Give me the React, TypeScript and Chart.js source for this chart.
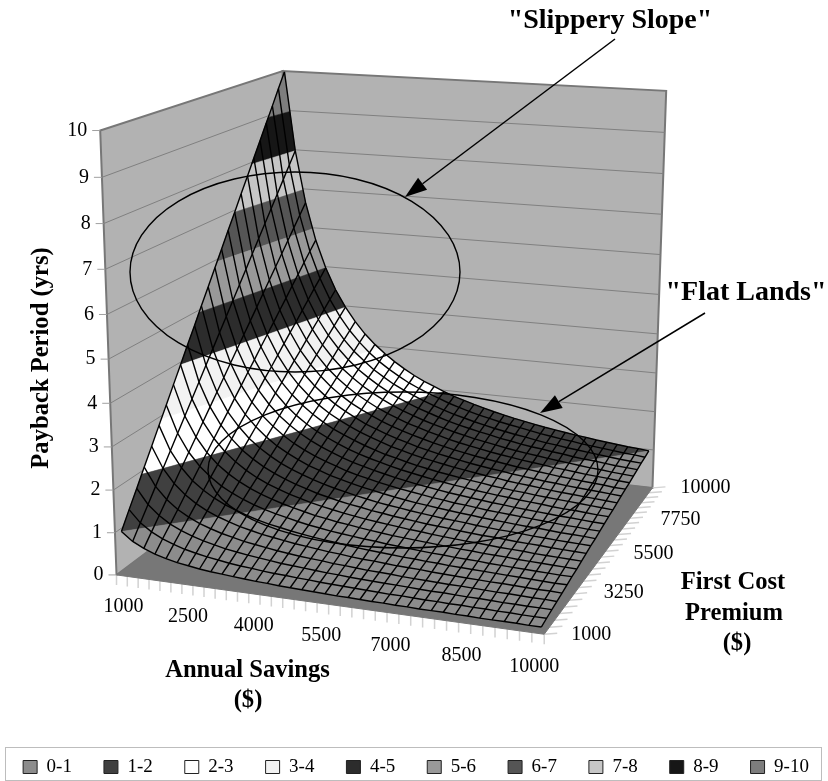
import React, { useEffect, useRef } from "react";
import { Chart, registerables } from "chart.js";

Chart.register(...registerables);

const FONT = '"Liberation Serif", "Times New Roman", serif';

// Axis categories and labels
const annualSavings = [1000, 1250, 1500, 1750, 2000, 2250, 2500, 2750, 3000, 3250, 3500, 3750, 4000, 4250, 4500, 4750, 5000, 5250, 5500, 5750, 6000, 6250, 6500, 6750, 7000, 7250, 7500, 7750, 8000, 8250, 8500, 8750, 9000, 9250, 9500, 9750, 10000];
const firstCostPremium = [1000, 1375, 1750, 2125, 2500, 2875, 3250, 3625, 4000, 4375, 4750, 5125, 5500, 5875, 6250, 6625, 7000, 7375, 7750, 8125, 8500, 8875, 9250, 9625, 10000];
const savingsTickLabels = ["1000", "2500", "4000", "5500", "7000", "8500", "10000"];
const premiumTickLabels = ["1000", "3250", "5500", "7750", "10000"];
const paybackTicks = [0, 1, 2, 3, 4, 5, 6, 7, 8, 9, 10];
const bandLabels = ["0-1", "1-2", "2-3", "3-4", "4-5", "5-6", "6-7", "7-8", "8-9", "9-10"];
const bandColors = ["#8c8c8c", "#404040", "#ffffff", "#f2f2f2", "#2c2c2c", "#999999", "#555555", "#c6c6c6", "#161616", "#7d7d7d"];

// Payback period in years: one row per first cost premium, one column per annual savings
const paybackYears = [
  [1,.8,.67,.57,.5,.44,.4,.36,.33,.31,.29,.27,.25,.24,.22,.21,.2,.19,.18,.17,.17,.16,.15,.15,.14,.14,.13,.13,.13,.12,.12,.11,.11,.11,.11,.1,.1],
  [1.38,1.1,.92,.79,.69,.61,.55,.5,.46,.42,.39,.37,.34,.32,.31,.29,.28,.26,.25,.24,.23,.22,.21,.2,.2,.19,.18,.18,.17,.17,.16,.16,.15,.15,.14,.14,.14],
  [1.75,1.4,1.17,1,.88,.78,.7,.64,.58,.54,.5,.47,.44,.41,.39,.37,.35,.33,.32,.3,.29,.28,.27,.26,.25,.24,.23,.23,.22,.21,.21,.2,.19,.19,.18,.18,.18],
  [2.13,1.7,1.42,1.21,1.06,.94,.85,.77,.71,.65,.61,.57,.53,.5,.47,.45,.43,.4,.39,.37,.35,.34,.33,.31,.3,.29,.28,.27,.27,.26,.25,.24,.24,.23,.22,.22,.21],
  [2.5,2,1.67,1.43,1.25,1.11,1,.91,.83,.77,.71,.67,.63,.59,.56,.53,.5,.48,.45,.43,.42,.4,.38,.37,.36,.34,.33,.32,.31,.3,.29,.29,.28,.27,.26,.26,.25],
  [2.88,2.3,1.92,1.64,1.44,1.28,1.15,1.05,.96,.88,.82,.77,.72,.68,.64,.61,.58,.55,.52,.5,.48,.46,.44,.43,.41,.4,.38,.37,.36,.35,.34,.33,.32,.31,.3,.29,.29],
  [3.25,2.6,2.17,1.86,1.63,1.44,1.3,1.18,1.08,1,.93,.87,.81,.76,.72,.68,.65,.62,.59,.57,.54,.52,.5,.48,.46,.45,.43,.42,.41,.39,.38,.37,.36,.35,.34,.33,.33],
  [3.63,2.9,2.42,2.07,1.81,1.61,1.45,1.32,1.21,1.12,1.04,.97,.91,.85,.81,.76,.73,.69,.66,.63,.6,.58,.56,.54,.52,.5,.48,.47,.45,.44,.43,.41,.4,.39,.38,.37,.36],
  [4,3.2,2.67,2.29,2,1.78,1.6,1.45,1.33,1.23,1.14,1.07,1,.94,.89,.84,.8,.76,.73,.7,.67,.64,.62,.59,.57,.55,.53,.52,.5,.48,.47,.46,.44,.43,.42,.41,.4],
  [4.38,3.5,2.92,2.5,2.19,1.94,1.75,1.59,1.46,1.35,1.25,1.17,1.09,1.03,.97,.92,.88,.83,.8,.76,.73,.7,.67,.65,.63,.6,.58,.56,.55,.53,.51,.5,.49,.47,.46,.45,.44],
  [4.75,3.8,3.17,2.71,2.38,2.11,1.9,1.73,1.58,1.46,1.36,1.27,1.19,1.12,1.06,1,.95,.9,.86,.83,.79,.76,.73,.7,.68,.66,.63,.61,.59,.58,.56,.54,.53,.51,.5,.49,.48],
  [5.13,4.1,3.42,2.93,2.56,2.28,2.05,1.86,1.71,1.58,1.46,1.37,1.28,1.21,1.14,1.08,1.03,.98,.93,.89,.85,.82,.79,.76,.73,.71,.68,.66,.64,.62,.6,.59,.57,.55,.54,.53,.51],
  [5.5,4.4,3.67,3.14,2.75,2.44,2.2,2,1.83,1.69,1.57,1.47,1.38,1.29,1.22,1.16,1.1,1.05,1,.96,.92,.88,.85,.81,.79,.76,.73,.71,.69,.67,.65,.63,.61,.59,.58,.56,.55],
  [5.88,4.7,3.92,3.36,2.94,2.61,2.35,2.14,1.96,1.81,1.68,1.57,1.47,1.38,1.31,1.24,1.18,1.12,1.07,1.02,.98,.94,.9,.87,.84,.81,.78,.76,.73,.71,.69,.67,.65,.64,.62,.6,.59],
  [6.25,5,4.17,3.57,3.13,2.78,2.5,2.27,2.08,1.92,1.79,1.67,1.56,1.47,1.39,1.32,1.25,1.19,1.14,1.09,1.04,1,.96,.93,.89,.86,.83,.81,.78,.76,.74,.71,.69,.68,.66,.64,.63],
  [6.63,5.3,4.42,3.79,3.31,2.94,2.65,2.41,2.21,2.04,1.89,1.77,1.66,1.56,1.47,1.39,1.33,1.26,1.2,1.15,1.1,1.06,1.02,.98,.95,.91,.88,.85,.83,.8,.78,.76,.74,.72,.7,.68,.66],
  [7,5.6,4.67,4,3.5,3.11,2.8,2.55,2.33,2.15,2,1.87,1.75,1.65,1.56,1.47,1.4,1.33,1.27,1.22,1.17,1.12,1.08,1.04,1,.97,.93,.9,.88,.85,.82,.8,.78,.76,.74,.72,.7],
  [7.38,5.9,4.92,4.21,3.69,3.28,2.95,2.68,2.46,2.27,2.11,1.97,1.84,1.74,1.64,1.55,1.48,1.4,1.34,1.28,1.23,1.18,1.13,1.09,1.05,1.02,.98,.95,.92,.89,.87,.84,.82,.8,.78,.76,.74],
  [7.75,6.2,5.17,4.43,3.88,3.44,3.1,2.82,2.58,2.38,2.21,2.07,1.94,1.82,1.72,1.63,1.55,1.48,1.41,1.35,1.29,1.24,1.19,1.15,1.11,1.07,1.03,1,.97,.94,.91,.89,.86,.84,.82,.79,.78],
  [8.13,6.5,5.42,4.64,4.06,3.61,3.25,2.95,2.71,2.5,2.32,2.17,2.03,1.91,1.81,1.71,1.63,1.55,1.48,1.41,1.35,1.3,1.25,1.2,1.16,1.12,1.08,1.05,1.02,.98,.96,.93,.9,.88,.86,.83,.81],
  [8.5,6.8,5.67,4.86,4.25,3.78,3.4,3.09,2.83,2.62,2.43,2.27,2.13,2,1.89,1.79,1.7,1.62,1.55,1.48,1.42,1.36,1.31,1.26,1.21,1.17,1.13,1.1,1.06,1.03,1,.97,.94,.92,.89,.87,.85],
  [8.88,7.1,5.92,5.07,4.44,3.94,3.55,3.23,2.96,2.73,2.54,2.37,2.22,2.09,1.97,1.87,1.78,1.69,1.61,1.54,1.48,1.42,1.37,1.31,1.27,1.22,1.18,1.15,1.11,1.08,1.04,1.01,.99,.96,.93,.91,.89],
  [9.25,7.4,6.17,5.29,4.63,4.11,3.7,3.36,3.08,2.85,2.64,2.47,2.31,2.18,2.06,1.95,1.85,1.76,1.68,1.61,1.54,1.48,1.42,1.37,1.32,1.28,1.23,1.19,1.16,1.12,1.09,1.06,1.03,1,.97,.95,.93],
  [9.63,7.7,6.42,5.5,4.81,4.28,3.85,3.5,3.21,2.96,2.75,2.57,2.41,2.26,2.14,2.03,1.93,1.83,1.75,1.67,1.6,1.54,1.48,1.43,1.38,1.33,1.28,1.24,1.2,1.17,1.13,1.1,1.07,1.04,1.01,.99,.96],
  [10,8,6.67,5.71,5,4.44,4,3.64,3.33,3.08,2.86,2.67,2.5,2.35,2.22,2.11,2,1.9,1.82,1.74,1.67,1.6,1.54,1.48,1.43,1.38,1.33,1.29,1.25,1.21,1.18,1.14,1.11,1.08,1.05,1.03,1],
];

// Camera calibration: box corners (savings, premium, payback fractions) and where they land on the view plane
const cameraPairs = [
  [0, 0, 0, 116, 573],
  [1, 0, 0, 545, 633],
  [1, 1, 0, 652, 487],
  [0, 1, 0, 288, 446],
  [0, 0, 1, 100, 131],
  [0, 1, 1, 283, 70.5],
  [1, 1, 1, 666, 90.5],
];
// The surface sits slightly inside the floor on every side
const SURFACE_INSET_U = 0.01;
const SURFACE_INSET_V = 0.012;

function solveLinear(A: number[][], b: number[]) {
  const n = b.length;
  const m = A.map((r, i) => [...r, b[i]]);
  for (let c = 0; c < n; c++) {
    let p = c;
    for (let r = c + 1; r < n; r++) if (Math.abs(m[r][c]) > Math.abs(m[p][c])) p = r;
    [m[c], m[p]] = [m[p], m[c]];
    for (let r = 0; r < n; r++) {
      if (r === c) continue;
      const f = m[r][c] / m[c][c];
      for (let k = c; k <= n; k++) m[r][k] -= f * m[c][k];
    }
  }
  return m.map((r, i) => r[n] / r[i]);
}

// Least-squares fit of a projective camera to the calibration pairs
function fitCamera() {
  const rows: number[][] = [];
  const rhs: number[] = [];
  for (const [u, v, w, x, y] of cameraPairs) {
    rows.push([1, u, v, w, 0, 0, 0, 0, -x * u, -x * v, -x * w]);
    rhs.push(x);
    rows.push([0, 0, 0, 0, 1, u, v, w, -y * u, -y * v, -y * w]);
    rhs.push(y);
  }
  const n = 11;
  const N = Array.from({ length: n }, () => new Array(n).fill(0));
  const t = new Array(n).fill(0);
  rows.forEach((r, k) => {
    for (let a = 0; a < n; a++) {
      t[a] += r[a] * rhs[k];
      for (let b = 0; b < n; b++) N[a][b] += r[a] * r[b];
    }
  });
  return solveLinear(N, t);
}

const cam = fitCamera();
const project = (u: number, v: number, w: number) => {
  const d = 1 + cam[8] * u + cam[9] * v + cam[10] * w;
  return {
    x: (cam[0] + cam[1] * u + cam[2] * v + cam[3] * w) / d,
    y: (cam[4] + cam[5] * u + cam[6] * v + cam[7] * w) / d,
  };
};

const lastI = annualSavings.length - 1;
const lastJ = firstCostPremium.length - 1;

// Grid position plus payback value to view-plane point
const surfacePoint = (i: number, j: number, z: number) =>
  project(
    SURFACE_INSET_U + (i / lastI) * (1 - 2 * SURFACE_INSET_U),
    SURFACE_INSET_V + (j / lastJ) * (1 - 2 * SURFACE_INSET_V),
    z / 10,
  );

// Outline of the surface clipped to one payback band
function bandOutline(lo: number, hi: number) {
  const ring: number[][] = [];
  for (let i = 0; i <= lastI; i++) ring.push([i, 0, paybackYears[0][i]]);
  for (let j = 1; j <= lastJ; j++) ring.push([lastI, j, paybackYears[j][lastI]]);
  for (let i = lastI - 1; i >= 0; i--) ring.push([i, lastJ, paybackYears[lastJ][i]]);
  for (let j = lastJ - 1; j > 0; j--) ring.push([0, j, paybackYears[j][0]]);
  const clip = (poly: number[][], level: number, keepAbove: boolean) => {
    const inside = (p: number[]) => (keepAbove ? p[2] >= level : p[2] <= level);
    const out: number[][] = [];
    poly.forEach((p, k) => {
      const q = poly[(k + 1) % poly.length];
      if (inside(p)) out.push(p);
      if (inside(p) !== inside(q)) {
        const t = (level - p[2]) / (q[2] - p[2]);
        out.push([p[0] + t * (q[0] - p[0]), p[1] + t * (q[1] - p[1]), level]);
      }
    });
    return out;
  };
  const pts = clip(clip(ring, lo, true), hi, false).map(([i, j, z]) => surfacePoint(i, j, z));
  if (pts.length) pts.push(pts[0]);
  return pts;
}

const poly = (corners: number[][]) => corners.map(([u, v, w]) => project(u, v, w));
const line = (label: string, data: any[], order: number, extra: any) => ({
  type: "scatter" as const,
  label,
  data,
  order,
  showLine: true,
  pointRadius: 0,
  pointHoverRadius: 0,
  borderWidth: 0,
  tension: 0,
  clip: false,
  fill: false,
  ...extra,
});

function buildDatasets() {
  const sets: any[] = [];
  // Surface bands come first so that they feed the legend
  bandLabels.forEach((label, b) => {
    sets.push(line(label, bandOutline(b, b + 1), 20, { fill: "shape", backgroundColor: bandColors[b], borderColor: bandColors[b], borderWidth: 0.5 }));
  });
  // Walls and floor
  const wall = { fill: "shape", backgroundColor: "#b2b2b2", borderColor: "#777777", borderWidth: 2 };
  sets.push(line("left wall", poly([[0, 0, 0], [0, 1, 0], [0, 1, 1], [0, 0, 1], [0, 0, 0]]), 60, wall));
  sets.push(line("back wall", poly([[0, 1, 0], [1, 1, 0], [1, 1, 1], [0, 1, 1], [0, 1, 0]]), 60, wall));
  sets.push(line("floor", poly([[0, 0, 0], [1, 0, 0], [1, 1, 0], [0, 1, 0], [0, 0, 0]]), 40, { fill: "shape", backgroundColor: "#777777", borderColor: "#777777", borderWidth: 1 }));
  // Gridlines on the walls with their tick marks
  paybackTicks.slice(1, -1).forEach((t) => {
    sets.push(line(`grid ${t}`, poly([[0, 0, t / 10], [0, 1, t / 10], [1, 1, t / 10]]), 50, { borderColor: "#808080", borderWidth: 1 }));
  });
  paybackTicks.forEach((t) => {
    const p = project(0, 0, t / 10);
    sets.push(line(`tick ${t}`, [{ x: p.x - 8, y: p.y }, p], 50, { borderColor: "#a0a0a0", borderWidth: 1 }));
  });
  // Tick marks along the floor edges, one per cell boundary
  for (let k = 0; k <= annualSavings.length; k++) {
    const p = project(k / annualSavings.length, 0, 0);
    sets.push(line(`savings tick ${k}`, [p, { x: p.x, y: p.y + 10 }], 50, { borderColor: "#d2d2d2", borderWidth: 1.5 }));
  }
  for (let k = 0; k <= firstCostPremium.length; k++) {
    const p = project(1, k / firstCostPremium.length, 0);
    sets.push(line(`premium tick ${k}`, [p, { x: p.x + 13, y: p.y - 1 }], 50, { borderColor: "#d2d2d2", borderWidth: 1.5 }));
  }
  // Surface mesh
  annualSavings.forEach((_, i) => {
    sets.push(line(`savings mesh ${i}`, firstCostPremium.map((__, j) => surfacePoint(i, j, paybackYears[j][i])), 10, { borderColor: "#000000", borderWidth: 1.4 }));
  });
  firstCostPremium.forEach((_, j) => {
    sets.push(line(`premium mesh ${j}`, annualSavings.map((__, i) => surfacePoint(i, j, paybackYears[j][i])), 10, { borderColor: "#000000", borderWidth: 1.4 }));
  });
  return sets;
}

function text(ctx: CanvasRenderingContext2D, s: string, x: number, y: number, font: string, align: CanvasTextAlign = "center") {
  ctx.font = font;
  ctx.textAlign = align;
  ctx.textBaseline = "middle";
  ctx.fillStyle = "#000";
  ctx.fillText(s, x, y);
}

function arrow(ctx: CanvasRenderingContext2D, x0: number, y0: number, x1: number, y1: number) {
  const a = Math.atan2(y1 - y0, x1 - x0);
  const len = 22;
  const hw = 7.5;
  const bx = x1 - len * Math.cos(a);
  const by = y1 - len * Math.sin(a);
  ctx.strokeStyle = "#000";
  ctx.lineWidth = 1.5;
  ctx.beginPath();
  ctx.moveTo(x0, y0);
  ctx.lineTo(bx, by);
  ctx.stroke();
  ctx.fillStyle = "#000";
  ctx.beginPath();
  ctx.moveTo(x1, y1);
  ctx.lineTo(bx - hw * Math.sin(a), by + hw * Math.cos(a));
  ctx.lineTo(bx + hw * Math.sin(a), by - hw * Math.cos(a));
  ctx.closePath();
  ctx.fill();
}

// Axis text, callouts and the legend frame
const annotations = {
  id: "surfaceAnnotations",
  afterDatasetsDraw(chart: any) {
    const ctx: CanvasRenderingContext2D = chart.ctx;
    const sx = chart.scales.x;
    const sy = chart.scales.y;
    const px = (p: { x: number; y: number }, dx = 0, dy = 0) => [sx.getPixelForValue(p.x) + dx, sy.getPixelForValue(p.y) + dy];
    ctx.save();
    const tickFont = `20px ${FONT}`;
    paybackTicks.forEach((t) => {
      const [x, y] = px(project(0, 0, t / 10), -13, 0);
      text(ctx, String(t), x, y, tickFont, "right");
    });
    savingsTickLabels.forEach((s, k) => {
      const f = k / (savingsTickLabels.length - 1);
      const [x, y] = px(project(f, 0, 0), 7 - 17 * f, 32);
      text(ctx, s, x, y, tickFont);
    });
    premiumTickLabels.forEach((s, k) => {
      const f = k / (premiumTickLabels.length - 1);
      const [x, y] = px(project(1, f, 0), 47 + 6 * f, 0);
      text(ctx, s, x, y, tickFont);
    });
    const titleFont = `bold 24.6px ${FONT}`;
    text(ctx, "Annual Savings", 247.5, 671, titleFont);
    text(ctx, "($)", 248, 701, titleFont);
    text(ctx, "First Cost", 733, 583, titleFont);
    text(ctx, "Premium", 734, 614, titleFont);
    text(ctx, "($)", 737, 644, titleFont);
    ctx.save();
    ctx.translate(42, 358);
    ctx.rotate(-Math.PI / 2);
    text(ctx, "Payback Period (yrs)", 0, 0, titleFont);
    ctx.restore();

    ctx.strokeStyle = "#000";
    ctx.lineWidth = 1.4;
    ctx.beginPath();
    ctx.ellipse(295, 272, 165, 100, 0, 0, Math.PI * 2);
    ctx.stroke();
    ctx.beginPath();
    ctx.ellipse(403, 470, 195, 78, 0, 0, Math.PI * 2);
    ctx.stroke();
    arrow(ctx, 615, 39, 405, 197);
    arrow(ctx, 705, 313, 540, 413);
    text(ctx, '"Slippery Slope"', 610, 21, `bold 28px ${FONT}`);
    text(ctx, '"Flat Lands"', 746, 293, `bold 28px ${FONT}`);

    ctx.strokeStyle = "#bdbdbd";
    ctx.lineWidth = 1;
    ctx.strokeRect(5.5, 747.5, 816, 33);
    ctx.restore();
  },
};

export default function App() {
  const ref = useRef<HTMLCanvasElement>(null);
  useEffect(() => {
    const chart = new Chart(ref.current!, {
      type: "scatter",
      data: { datasets: buildDatasets() },
      plugins: [annotations],
      options: {
        animation: false,
        responsive: false,
        devicePixelRatio: 1,
        layout: { padding: { left: -12, right: -16, top: 0, bottom: -5.5 } },
        scales: {
          x: { type: "linear", display: false, min: 0, max: 828 },
          y: { type: "linear", display: false, min: 0, max: 724, reverse: true },
        },
        plugins: {
          tooltip: { enabled: false },
          title: { display: false },
          legend: {
            position: "bottom",
            labels: {
              boxWidth: 14,
              boxHeight: 13,
              padding: 32,
              color: "#000",
              font: { family: FONT, size: 19 },
              generateLabels: (c: any) =>
                bandLabels.map((l, b) => ({
                  text: l,
                  fillStyle: bandColors[b],
                  strokeStyle: "#222222",
                  lineWidth: 1,
                  hidden: false,
                  datasetIndex: b,
                })),
            },
          },
        },
      } as any,
    } as any);
    return () => chart.destroy();
  }, []);
  return (
    <div style={{ position: "absolute", left: 0, top: 0, width: 828, height: 781, background: "#fff" }}>
      <canvas ref={ref} width={828} height={781} style={{ display: "block" }} />
    </div>
  );
}
